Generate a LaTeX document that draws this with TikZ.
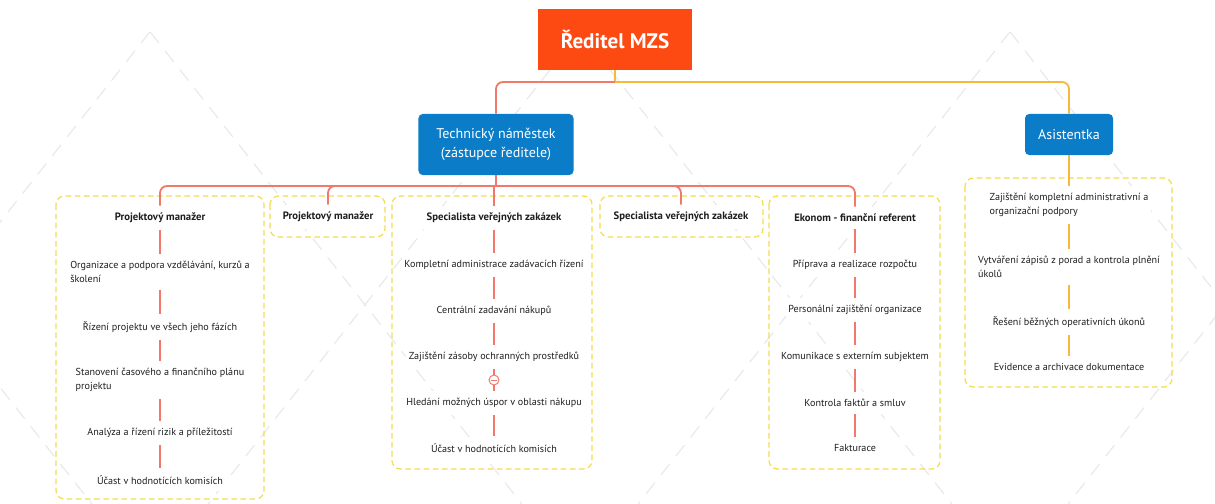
\documentclass[tikz,border=0pt]{standalone}
\usepackage{fontspec}
\setmainfont{PT Sans}
\usepackage{tikz}
\usetikzlibrary{calc}
\definecolor{rootorange}{HTML}{FD4A12}
\definecolor{mzsblue}{HTML}{0B7DC8}
\definecolor{redline}{HTML}{F2786B}
\definecolor{yellowline}{HTML}{F6B93B}
\definecolor{dashyellow}{HTML}{F5DC50}
\definecolor{bgline}{HTML}{E8E8E8}
\definecolor{txt}{HTML}{1E1E1E}

\begin{document}
\begin{tikzpicture}[x=0.025cm,y=-0.025cm,
	rootbox/.style={fill=rootorange,text=white,font=\fontsize{15}{18}\selectfont\bfseries,minimum width=3.85cm,minimum height=1.525cm},
	bluebox/.style={fill=mzsblue,text=white,rounded corners=3pt,font=\fontsize{10}{14}\selectfont,align=center},
	grp/.style={draw=dashyellow,line width=0.9pt,dash pattern=on 4pt off 2.5pt,rounded corners=6pt},
	head/.style={fill=white,text=txt,font=\fontsize{7.6}{9}\selectfont\bfseries,inner xsep=2pt,inner ysep=5pt},
	item/.style={fill=white,text=txt,font=\fontsize{7.2}{10}\selectfont,align=center,inner xsep=2pt,inner ysep=5pt},
	redln/.style={draw=redline,line width=1.3pt},
	yelln/.style={draw=yellowline,line width=1.3pt},
	bg/.style={draw=bgline,line width=0.8pt,dash pattern=on 10pt off 7pt},
]
	\useasboundingbox (0,0) rectangle (1215,504);

	% background lattice
	\begin{scope}
		\clip (0,32) rectangle (1215,504);
		\foreach \c in {175,605,1035,1465}
			\draw[bg] (\c-25.2,32) -- (\c-396.9,504);
		\foreach \c in {-305,125,555,985}
			\draw[bg] (\c+25.2,32) -- (\c+396.9,504);
	\end{scope}

	% group frames
	\draw[grp] (56,196) rectangle (264,499);
	\draw[grp] (270,196) rectangle (385,237);
	\draw[grp] (392,196) rectangle (592,469);
	\draw[grp] (600,196) rectangle (763,237);
	\draw[grp] (769,196) rectangle (940,469);
	\draw[grp] (965,178) rectangle (1172,387);

	\node[rootbox] (root) at (615,39.5) {Ředitel MZS};
	\node[bluebox,minimum width=3.875cm,minimum height=1.525cm] (tech) at (496,144.5) {Technický náměstek\\(zástupce ředitele)};
	\node[bluebox,minimum width=2.2cm,minimum height=1.025cm] (asis) at (1069,134.5) {Asistentka};

	% Projektovy manazer
	\node[head] (h1) at (160,218) {Projektový manažer};
	\node[item,align=left] (a1) at (160,272) {Organizace a podpora vzdělávání, kurzů a\\školení};
	\node[item] (a2) at (160,327) {Řízení projektu ve všech jeho fázích};
	\node[item,align=left] (a3) at (160,380) {Stanovení časového a finančního plánu\\projektu};
	\node[item] (a4) at (160,433) {Analýza a řízení rizik a příležitostí};
	\node[item] (a5) at (160,480) {Účast v hodnotících komisích};

	\node[head] (h2) at (328,217) {Projektový manažer};

	% Specialista
	\node[head] (h3) at (494,218) {Specialista veřejných zakázek};
	\node[item] (c1) at (494,265) {Kompletní administrace zadávacích řízení};
	\node[item] (c2) at (494,311) {Centrální zadavání nákupů};
	\node[item] (c3) at (494,357) {Zajištění zásoby ochranných prostředků};
	\node[circle,draw=redline,fill=white,line width=0.7pt,minimum size=0.25cm,inner sep=0pt] (m3) at (494,380) {};
	\draw[redline,line width=0.7pt] ($(m3.west)+(2.5,0)$) -- ($(m3.east)+(-2.5,0)$);
	\node[item] (c4) at (494,403) {Hledání možných úspor v oblasti nákupu};
	\node[item] (c5) at (494,448) {Účast v hodnotících komisích};

	\node[head] (h4) at (681,217) {Specialista veřejných zakázek};

	% Ekonom
	\node[head] (h5) at (855,218) {Ekonom - finanční referent};
	\node[item] (e1) at (855,265) {Příprava a realizace rozpočtu};
	\node[item] (e2) at (855,310) {Personální zajištění organizace};
	\node[item] (e3) at (855,357) {Komunikace s externím subjektem};
	\node[item] (e4) at (855,403) {Kontrola faktůr a smluv};
	\node[item] (e5) at (855,448) {Fakturace};

	% Asistentka
	\node[item,align=left] (b1) at (1069,205) {Zajištění kompletní administrativní a\\organizační podpory};
	\node[item,align=left] (b2) at (1069,267) {Vytváření zápisů z porad a kontrola plnění\\úkolů};
	\node[item] (b3) at (1069,322) {Řešení běžných operativních úkonů};
	\node[item] (b4) at (1069,367) {Evidence a archivace dokumentace};

	% connectors
	\coordinate (rj) at (615,82);
	\draw[yelln] (root.south) -- (rj);
	\draw[redln,rounded corners=5pt] (rj) -| (tech.north);
	\draw[yelln,rounded corners=5pt] (rj) -| (asis.north);

	\coordinate (tj) at (496,186);
	\draw[redln] (tech.south) -- (tj);
	\foreach \n in {h1,h2,h4,h5}
		\draw[redln,rounded corners=5pt] (tj) -| (\n.north);
	\draw[redln] (tj) -| (h3.north);

	\foreach \u/\v in {h1/a1,a1/a2,a2/a3,a3/a4,a4/a5,h3/c1,c1/c2,c2/c3,c3/m3,m3/c4,c4/c5,h5/e1,e1/e2,e2/e3,e3/e4,e4/e5}
		\draw[redln] (\u) -- (\v);
	\foreach \u/\v in {asis/b1,b1/b2,b2/b3,b3/b4}
		\draw[yelln] (\u) -- (\v);
\end{tikzpicture}
\end{document}
